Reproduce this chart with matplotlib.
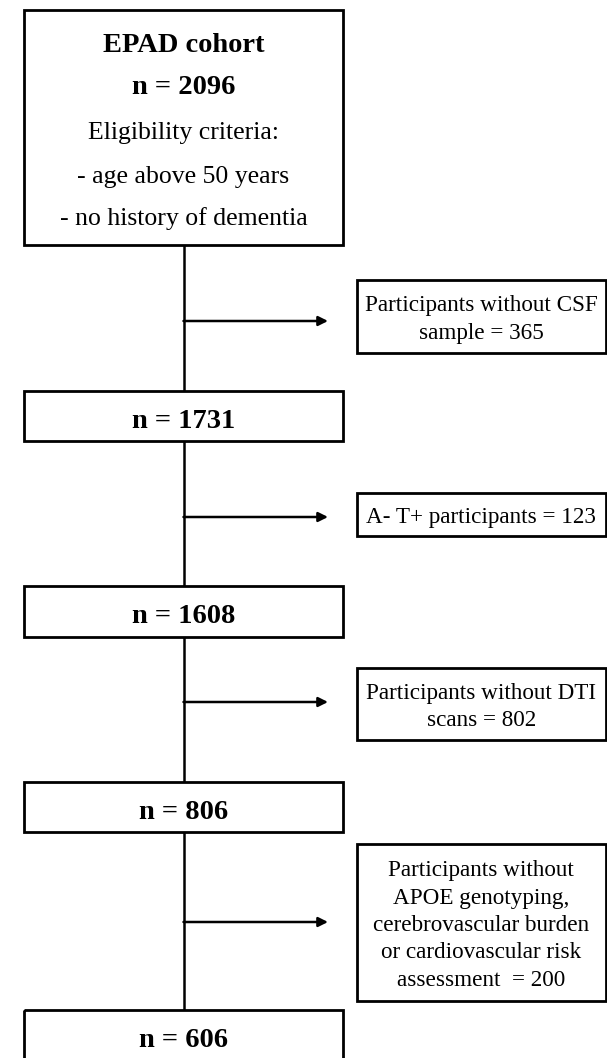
import matplotlib
matplotlib.use("Agg")
import matplotlib.pyplot as plt
from matplotlib.patches import Rectangle

# ---- data ----
cohort_name = "EPAD cohort"
stage_counts = [2096, 1731, 1608, 806, 606]
criteria_title = "Eligibility criteria:"
eligibility = ["age above 50 years", "no history of dementia"]
exclusion_reasons = [
    ["Participants without CSF", "sample"],
    ["A- T+ participants"],
    ["Participants without DTI", "scans"],
    ["Participants without", "APOE genotyping,", "cerebrovascular burden",
     "or cardiovascular risk", "assessment "],
]
exclusion_counts = [365, 123, 802, 200]

# ---- layout (pixel coordinates) ----
W, H = 607, 1058
main_x0, main_x1 = 24, 343
cx = 183.5
main_boxes = [(10, 245), (391, 441), (586, 637), (782, 832), (1010, 1062)]
main_baselines = [None, 428, 623, 819, 1047]
top_baselines = [52, 94, 139, 183, 225]
side_x0, side_x1 = 357, 605.5
side_boxes = [(280, 353), (493, 536), (668, 740), (844, 1001)]
arrow_y = [321, 517, 702, 922]
arrow_end = 328

FONT = "Liberation Serif"
BOLD_SIZE = 20.5
REG_SIZE = 18.5
SIDE_SIZE = 16.7
BOX_LW = 2.0
LINE_LW = 1.8
SIDE_STEP = 27.3
SIDE_BASE_OFF = 8.5

fig = plt.figure(figsize=(W / 100, H / 100), dpi=100)
ax = fig.add_axes([0, 0, 1, 1])
ax.set_xlim(0, W)
ax.set_ylim(H, 0)
ax.axis("off")

def box(x0, x1, y0, y1):
    ax.add_patch(Rectangle((x0, y0), x1 - x0, y1 - y0, fill=False,
                           edgecolor="black", lw=BOX_LW, zorder=3))

# main boxes
for (y0, y1) in main_boxes:
    box(main_x0, main_x1, y0, y1)

# top box text
top_lines = [(cohort_name, "bold", BOLD_SIZE),
             (f"n = {stage_counts[0]}", "bold", BOLD_SIZE),
             (criteria_title, "normal", REG_SIZE)] + \
            [(f"- {e}", "normal", REG_SIZE) for e in eligibility]
for (t, w, s), yb in zip(top_lines, top_baselines):
    ax.text(cx, yb, t, ha="center", va="baseline",
            fontsize=s, fontweight=w, family=FONT, zorder=4)

# other main boxes
for i in range(1, len(stage_counts)):
    ax.text(cx, main_baselines[i], f"n = {stage_counts[i]}", ha="center",
            va="baseline", fontsize=BOLD_SIZE, fontweight="bold",
            family=FONT, zorder=4)

# vertical connectors
for i in range(len(main_boxes) - 1):
    ax.plot([cx, cx], [main_boxes[i][1], main_boxes[i + 1][0]],
            color="black", lw=LINE_LW, solid_capstyle="butt", zorder=2)

# side boxes and arrows
for i, (y0, y1) in enumerate(side_boxes):
    box(side_x0, side_x1, y0, y1)
    lines = list(exclusion_reasons[i])
    lines[-1] = f"{lines[-1]} = {exclusion_counts[i]}"
    n = len(lines)
    yc = (y0 + y1) / 2 + SIDE_BASE_OFF
    for k, t in enumerate(lines):
        ax.text((side_x0 + side_x1) / 2, yc + (k - (n - 1) / 2) * SIDE_STEP, t,
                ha="center", va="baseline", fontsize=SIDE_SIZE, family=FONT,
                zorder=4)
    ax.annotate("", xy=(arrow_end, arrow_y[i]), xytext=(cx, arrow_y[i]),
                arrowprops=dict(arrowstyle="-|>", lw=LINE_LW, color="black",
                                mutation_scale=14, shrinkA=0, shrinkB=0))

fig.savefig("out.png", dpi=100)
